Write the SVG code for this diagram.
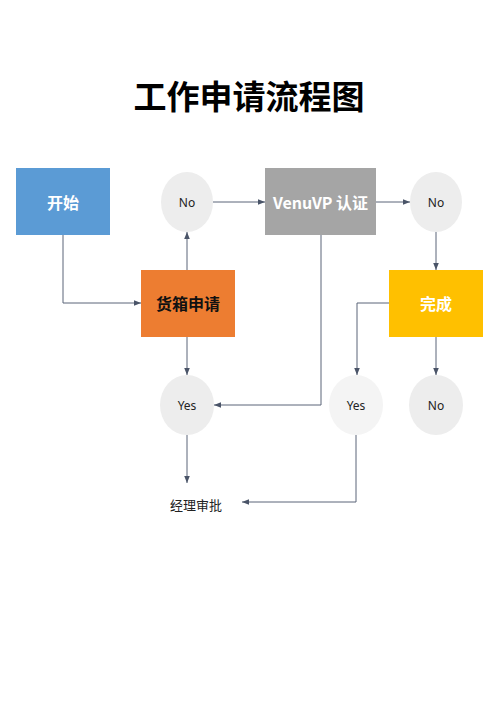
<svg xmlns="http://www.w3.org/2000/svg" width="500" height="707" viewBox="0 0 500 707">
<defs>
<style>
.t{font-family:"Noto Sans CJK SC","Noto Sans",sans-serif;}
.lbl{font-family:"Noto Sans CJK SC","Noto Sans",sans-serif;font-weight:bold;font-size:16px;fill:#fff;text-anchor:middle;dominant-baseline:central;}
.sm{font-family:"Noto Sans","Noto Sans CJK SC",sans-serif;font-size:12px;fill:#222;text-anchor:middle;dominant-baseline:central;}
.c{fill:none;stroke:#5a6478;stroke-width:1;}
</style>
<marker id="a" viewBox="0 0 10 10" refX="10" refY="5" markerWidth="7" markerHeight="7" orient="auto" markerUnits="userSpaceOnUse">
<path d="M0,1 L10,5 L0,9 z" fill="#4a5468"/>
</marker>
</defs>
<rect width="500" height="707" fill="#fff"/>
<text x="249" y="95" class="t" font-size="33" font-weight="bold" text-anchor="middle" dominant-baseline="central" fill="#000">工作申请流程图</text>
<g id="connectors">
<path class="c" d="M63,235 V303 H141" marker-end="url(#a)"/>
<path class="c" d="M187,270 V232" marker-end="url(#a)"/>
<path class="c" d="M213,202 H265" marker-end="url(#a)"/>
<path class="c" d="M376,202 H410" marker-end="url(#a)"/>
<path class="c" d="M436,232 V270" marker-end="url(#a)"/>
<path class="c" d="M187,337 V375" marker-end="url(#a)"/>
<path class="c" d="M321,235 V405 H214" marker-end="url(#a)"/>
<path class="c" d="M389,303 H357 V375" marker-end="url(#a)"/>
<path class="c" d="M436,337 V375" marker-end="url(#a)"/>
<path class="c" d="M187,435 V483" marker-end="url(#a)"/>
<path class="c" d="M356,435 V502 H242" marker-end="url(#a)"/>
</g>
<g id="start"><rect x="16" y="168" width="94" height="67" fill="#5b9bd5"/><text x="63" y="202" class="lbl">开始</text></g>
<g id="no1"><ellipse cx="187" cy="202" rx="26" ry="30" fill="#ededed"/><text x="187" y="202" class="sm">No</text></g>
<g id="venuvp"><rect x="265" y="168" width="111" height="67" fill="#a5a5a5"/><text x="320.5" y="202" class="lbl">VenuVP  认证</text></g>
<g id="no2"><ellipse cx="436" cy="202" rx="26" ry="30" fill="#ededed"/><text x="436" y="202" class="sm">No</text></g>
<g id="apply"><rect x="141" y="270" width="94" height="67" fill="#ed7d31"/><text x="188" y="303" class="lbl" fill="#111" style="fill:#111">货箱申请</text></g>
<g id="done"><rect x="389" y="270" width="94" height="67" fill="#ffc000"/><text x="436" y="303" class="lbl">完成</text></g>
<g id="yes1"><ellipse cx="187" cy="405" rx="27" ry="30" fill="#ededed"/><text x="187" y="405" class="sm">Yes</text></g>
<g id="yes2"><ellipse cx="356" cy="405" rx="27" ry="30" fill="#f4f4f4"/><text x="356" y="405" class="sm">Yes</text></g>
<g id="no3"><ellipse cx="436" cy="405" rx="27" ry="30" fill="#ededed"/><text x="436" y="405" class="sm">No</text></g>
<g id="approve"><text x="196" y="504" class="t" font-size="13" fill="#222" text-anchor="middle" dominant-baseline="central">经理审批</text></g>
</svg>
